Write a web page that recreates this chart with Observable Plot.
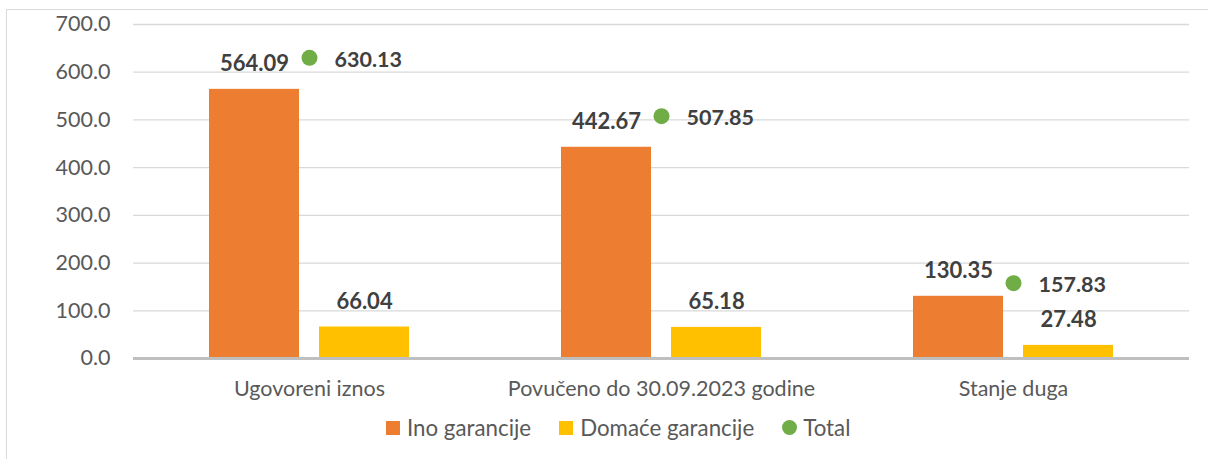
<!DOCTYPE html>
<html>
<head>
<meta charset="utf-8">
<script src="https://cdn.jsdelivr.net/npm/d3@7"></script>
<script src="https://cdn.jsdelivr.net/npm/@observablehq/plot@0.6"></script>
<style>
  html, body { margin: 0; padding: 0; background: #fff; }
  body { width: 1208px; height: 459px; position: relative; overflow: hidden; font-family: Lato, "Open Sans", sans-serif; }
  #frame { position: absolute; left: 6px; top: 9px; width: 1300px; height: 500px; border-left: 1.5px solid #d9d9d9; border-top: 1.5px solid #d9d9d9; box-sizing: border-box; }
  #chart { position: absolute; left: 0; top: 0; }
  #legend { position: absolute; top: 414px; left: 386px; display: flex; align-items: center; font-size: 22.3px; color: #595959; white-space: nowrap; }
  .item { display: flex; align-items: center; margin-right: 28px; }
  .sw { width: 14px; height: 14px; margin-right: 7px; }
  .dot { width: 15px; height: 15px; border-radius: 50%; margin-right: 6px; }
</style>
</head>
<body>
<div id="frame"></div>
<div id="chart"></div>
<div id="legend"></div>
<script>
const categories = ["Ugovoreni iznos", "Povučeno do 30.09.2023 godine", "Stanje duga"];
const inoValues = [564.09, 442.67, 130.35];
const domaceValues = [66.04, 65.18, 27.48];
const totalValues = [630.13, 507.85, 157.83];
const seriesNames = ["Ino garancije", "Domaće garancije", "Total"];
const seriesColors = ["#ED7D31", "#FFC000", "#70AD47"];
const yTicks = [0, 100, 200, 300, 400, 500, 600, 700];

const barRows = [];
categories.forEach((c, i) => {
  barRows.push({cat: c, series: seriesNames[0], value: inoValues[i]});
  barRows.push({cat: c, series: seriesNames[1], value: domaceValues[i]});
});
const totalRows = categories.map((c, i) => ({cat: c, series: seriesNames[2], value: totalValues[i]}));

const chart = Plot.plot({
  width: 1208,
  height: 400,
  marginLeft: 133,
  marginRight: 19,
  marginTop: 24,
  marginBottom: 42,
  style: {fontFamily: "Lato", fontSize: "21px", color: "#595959", background: "transparent"},
  fx: {domain: categories, padding: 0, label: null},
  x: {domain: seriesNames.slice(0, 2), paddingInner: 0.18, paddingOuter: 0.6757, axis: null},
  y: {domain: [0, 700], label: null},
  color: {domain: seriesNames, range: seriesColors},
  marks: [
    Plot.gridY(yTicks, {stroke: "#d9d9d9", strokeOpacity: 1, strokeWidth: 1.3}),
    Plot.axisY(yTicks, {tickSize: 0, tickPadding: 23, tickFormat: d3.format(".1f"), label: null, fontSize: 21.5, fill: "#595959"}),
    Plot.axisFx({anchor: "bottom", tickSize: 0, tickPadding: 22, label: null, fontSize: 21.5, fill: "#595959"}),
    Plot.barY(barRows, {fx: "cat", x: "series", y: "value", fill: "series"}),
    Plot.ruleY([0], {stroke: "#bfbfbf", strokeWidth: 3}),
    Plot.text(barRows, {fx: "cat", x: "series", y: "value", text: d => d.value.toFixed(2), dy: -25, fontWeight: "bold", fontSize: 22, fill: "#404040"}),
    Plot.dot(totalRows, {fx: "cat", y: "value", r: 8, fill: "series", stroke: null}),
    Plot.text(totalRows, {fx: "cat", y: "value", text: d => d.value.toFixed(2), dx: 25, dy: 2, textAnchor: "start", fontWeight: "bold", fontSize: 21.5, fill: "#404040"})
  ]
});
document.getElementById("chart").appendChild(chart);

const legend = document.getElementById("legend");
seriesNames.forEach((name, i) => {
  const item = document.createElement("div");
  item.className = "item";
  const sw = document.createElement("div");
  sw.className = i === 2 ? "dot" : "sw";
  sw.style.background = seriesColors[i];
  const label = document.createElement("span");
  label.textContent = name;
  item.appendChild(sw);
  item.appendChild(label);
  legend.appendChild(item);
});
</script>
</body>
</html>
